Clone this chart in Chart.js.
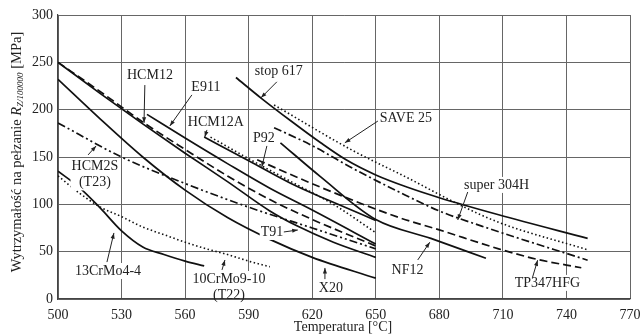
<!DOCTYPE html>
<html>
<head>
<meta charset="utf-8">
<script src="https://cdn.jsdelivr.net/npm/chart.js@4.4.1/dist/chart.umd.min.js"></script>
<style>
  html, body { margin: 0; padding: 0; background: #fff; }
  #wrap { width: 641px; height: 335px; }
</style>
</head>
<body>
<div id="wrap"><canvas id="creep"></canvas></div>
<script>
// tick labels
const xTicks = [500, 530, 560, 590, 620, 650, 680, 710, 740, 770];
const yTicks = [0, 50, 100, 150, 200, 250, 300];

// curves: temperature [°C] and creep strength [MPa]
const t91Temp = [500, 520, 540, 560, 580, 600, 613, 630, 650];
const t91Stress = [250, 217, 185, 154, 124, 93, 77, 60, 44];

const hcm12Temp = [500, 520, 540, 560, 580, 600, 620, 650];
const hcm12Stress = [250, 219, 187, 158, 130, 105, 84, 56];

const x20Temp = [500, 520, 540, 560, 580, 600, 620, 650];
const x20Stress = [232, 190, 150, 115, 86, 63, 44, 22];

const e911Temp = [542, 560, 580, 600, 620, 650];
const e911Stress = [195, 170, 143, 117, 94, 58];

const hcm12aTemp = [569, 590, 610, 628, 650];
const hcm12aStress = [171, 146, 122, 104, 83];

const p92Temp = [572, 591, 610, 630, 650];
const p92Stress = [171, 147, 124, 100, 70];

const hcm2sTemp = [500, 530, 560, 590, 620, 650];
const hcm2sStress = [186, 150, 122, 97, 75, 53];

const stop617Temp = [584, 596, 610, 624, 636, 650, 665, 680, 708, 750];
const stop617Stress = [234, 212, 188, 165, 147, 131, 118, 107, 89, 64];

const save25Temp = [602, 639, 665, 690, 708, 750];
const save25Stress = [205, 157, 128, 99, 81, 52];

const s304hTemp = [602, 620, 640, 661, 680, 700, 750];
const s304hStress = [181, 162, 137, 113, 93, 77, 41];

const tp347Temp = [594, 624, 661, 680, 708, 726, 747];
const tp347Stress = [147, 118, 86, 73, 53, 42, 33];

const nf12Temp = [605, 624, 650, 676, 702];
const nf12Stress = [165, 129, 84, 64, 43];

const crmo44Temp = [500, 510, 520, 530, 540, 550, 560, 569];
const crmo44Stress = [135, 118, 96, 72, 55, 47, 40, 35];

const crmo910Temp = [500, 510, 520, 530, 540, 550, 560, 570, 580, 590, 600];
const crmo910Stress = [130, 112, 97, 87, 76, 68, 60, 53, 47, 40, 34];

const SOLID = [];
const DASH = [8, 4];
const DOT = [1.5, 2.5];
const DASHDOT = [8, 3, 2, 3];
const DASHDOTDOT = [8, 3, 2, 3, 2, 3];

function pts(t, s) { return t.map((v, i) => ({ x: v, y: s[i] })); }
function curve(label, t, s, dash) {
  return {
    label: label,
    data: pts(t, s),
    borderColor: "#111",
    borderWidth: dash === DOT ? 1.6 : 1.7,
    borderDash: dash,
    pointRadius: 0,
    fill: false,
    cubicInterpolationMode: "monotone",
  };
}

const serif = "'Liberation Serif', 'DejaVu Serif', serif";

// label text, centre (data coords), arrow from/to (data coords)
const notes = [
  { text: ["HCM12"], at: [543.4, 236.8], from: [541, 226], to: [540.6, 186] },
  { text: ["E911"], at: [569.8, 224], from: [563.2, 215.6], to: [552.8, 182.8] },
  { text: ["HCM12A"], at: [574.5, 187], from: [570.3, 178.6], to: [569.3, 171.2] },
  { text: ["stop 617"], at: [604.2, 240], from: [603.3, 229.4], to: [595.8, 212.5] },
  { text: ["SAVE 25"], at: [664.2, 191.3], from: [651, 188], to: [635.4, 165] },
  { text: ["P92"], at: [597.2, 170], from: [598.6, 161.7], to: [596.2, 139.5] },
  { text: ["HCM2S", "(T23)"], at: [517.4, 131.6], from: [514.2, 152.2], to: [518, 161.7] },
  { text: ["13CrMo4-4"], at: [523.6, 29.6], from: [523.1, 39], to: [526.4, 69.8] },
  { text: ["10CrMo9-10", "(T22)"], at: [580.7, 12.7], from: [577.4, 30.7], to: [578.8, 41.2] },
  { text: ["T91"], at: [601, 70.8], from: [606.6, 70.8], to: [613.2, 72.9] },
  { text: ["X20"], at: [628.8, 11.6], from: [626, 21], to: [626, 32.8] },
  { text: ["NF12"], at: [665, 30.7], from: [669.8, 41.2], to: [675.5, 60] },
  { text: ["super 304H"], at: [707, 120.5], from: [693.4, 113], to: [688.7, 83.5] },
  { text: ["TP347HFG"], at: [731, 17], from: [724, 23], to: [726.4, 41] },
];

const notePlugin = {
  id: "notes",
  afterDatasetsDraw(chart) {
    const { ctx, scales, chartArea: area } = chart;
    const xs = scales.x, ys = scales.y;
    ctx.save();
    ctx.font = "14px " + serif;
    ctx.textAlign = "center";
    ctx.textBaseline = "middle";
    notes.forEach((n) => {
      const cx = xs.getPixelForValue(n.at[0]);
      const cy = ys.getPixelForValue(n.at[1]);
      const lh = 16;
      const top = cy - ((n.text.length - 1) * lh) / 2;
      // white box behind the text hides grid lines, but not the axis frame
      let w = 0;
      n.text.forEach((t) => (w = Math.max(w, ctx.measureText(t).width)));
      ctx.save();
      ctx.beginPath();
      ctx.rect(area.left + 1, area.top + 1, area.right - area.left - 2, area.bottom - area.top - 2);
      ctx.clip();
      ctx.fillStyle = "#fff";
      ctx.fillRect(cx - w / 2 - 1, top - lh / 2, w + 2, lh * n.text.length);
      ctx.restore();
      ctx.fillStyle = "#222";
      n.text.forEach((t, i) => ctx.fillText(t, cx, top + i * lh));
      // arrow
      const x1 = xs.getPixelForValue(n.from[0]), y1 = ys.getPixelForValue(n.from[1]);
      const x2 = xs.getPixelForValue(n.to[0]), y2 = ys.getPixelForValue(n.to[1]);
      ctx.strokeStyle = "#222";
      ctx.lineWidth = 1;
      ctx.setLineDash([]);
      ctx.beginPath();
      ctx.moveTo(x1, y1);
      ctx.lineTo(x2, y2);
      ctx.stroke();
      const a = Math.atan2(y2 - y1, x2 - x1);
      ctx.beginPath();
      ctx.moveTo(x2, y2);
      ctx.lineTo(x2 - 6 * Math.cos(a - 0.35), y2 - 6 * Math.sin(a - 0.35));
      ctx.lineTo(x2 - 6 * Math.cos(a + 0.35), y2 - 6 * Math.sin(a + 0.35));
      ctx.closePath();
      ctx.fillStyle = "#222";
      ctx.fill();
    });

    // axis titles
    ctx.font = "14px " + serif;
    ctx.fillStyle = "#222";
    ctx.textAlign = "center";
    ctx.textBaseline = "middle";
    ctx.fillText("Temperatura [°C]", 343, 327);

    ctx.translate(17, 152);
    ctx.rotate(-Math.PI / 2);
    const parts = [
      { t: "Wytrzymałość na pełzanie ", f: "14.5px " + serif, dy: 0 },
      { t: "R", f: "italic 14.5px " + serif, dy: 0 },
      { t: "Z/100000", f: "italic 9px " + serif, dy: 4 },
      { t: " [MPa]", f: "14.5px " + serif, dy: 0 },
    ];
    let total = 0;
    parts.forEach((p) => { ctx.font = p.f; total += ctx.measureText(p.t).width; });
    let x = -total / 2;
    ctx.textAlign = "left";
    parts.forEach((p) => {
      ctx.font = p.f;
      ctx.fillText(p.t, x, p.dy);
      x += ctx.measureText(p.t).width;
    });
    ctx.restore();
  },
};

new Chart(document.getElementById("creep"), {
  type: "line",
  data: {
    datasets: [
      curve("T91", t91Temp, t91Stress, SOLID),
      curve("HCM12", hcm12Temp, hcm12Stress, DASH),
      curve("X20", x20Temp, x20Stress, SOLID),
      curve("E911", e911Temp, e911Stress, SOLID),
      curve("HCM12A", hcm12aTemp, hcm12aStress, SOLID),
      curve("P92", p92Temp, p92Stress, DOT),
      curve("HCM2S (T23)", hcm2sTemp, hcm2sStress, DASHDOTDOT),
      curve("stop 617", stop617Temp, stop617Stress, SOLID),
      curve("SAVE 25", save25Temp, save25Stress, DOT),
      curve("super 304H", s304hTemp, s304hStress, DASHDOT),
      curve("TP347HFG", tp347Temp, tp347Stress, DASH),
      curve("NF12", nf12Temp, nf12Stress, SOLID),
      curve("13CrMo4-4", crmo44Temp, crmo44Stress, SOLID),
      curve("10CrMo9-10 (T22)", crmo910Temp, crmo910Stress, DOT),
    ],
  },
  options: {
    responsive: true,
    maintainAspectRatio: false,
    animation: false,
    layout: { padding: { top: 15, right: 0, left: 0, bottom: 0 } },
    plugins: {
      legend: { display: false },
      tooltip: { enabled: false },
    },
    scales: {
      x: {
        type: "linear",
        min: 500,
        max: 770,
        afterBuildTicks: (s) => { s.ticks = xTicks.map((v) => ({ value: v })); },
        afterFit: (s) => {
          s.height = 36;
          s.paddingLeft = 0;
          s.paddingRight = 11; // leaves room for "770" like the original
        },
        grid: { color: "#666", lineWidth: 1, drawTicks: false },
        border: { color: "#444", width: 1.2 },
        ticks: {
          padding: 8,
          color: "#222",
          font: { family: serif, size: 14 },
        },
      },
      y: {
        min: 0,
        max: 300,
        afterBuildTicks: (s) => { s.ticks = yTicks.map((v) => ({ value: v })); },
        afterFit: (s) => { s.width = 58; },
        grid: { color: "#666", lineWidth: 1, drawTicks: false },
        border: { color: "#444", width: 1.2 },
        ticks: {
          padding: 5,
          color: "#222",
          font: { family: serif, size: 14 },
        },
      },
    },
  },
  plugins: [notePlugin],
});
</script>
</body>
</html>
